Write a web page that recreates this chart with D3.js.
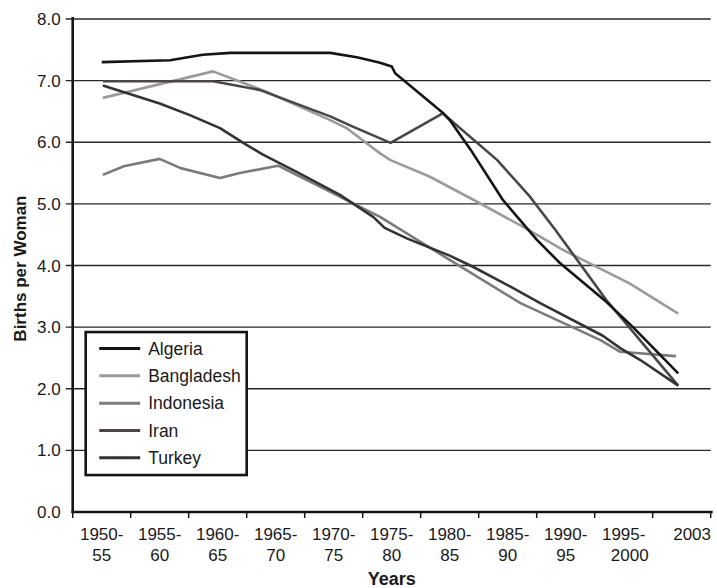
<!DOCTYPE html>
<html>
<head>
<meta charset="utf-8">
<script src="https://cdn.jsdelivr.net/npm/d3@7/dist/d3.min.js"></script>
<style>
  body { margin: 0; background: #fff; }
  text { font-family: "Liberation Sans", Arial, sans-serif; fill: #1a1a1a; }
</style>
</head>
<body>
<div class="chart-container"></div>
<script>
// tick labels (two lines under each period)
var periodTop = ["1950-", "1955-", "1960-", "1965-", "1970-", "1975-", "1980-", "1985-", "1990-", "1995-", "2003"];
var periodBottom = ["55", "60", "65", "70", "75", "80", "85", "90", "95", "2000", ""];
var periodMid = [1952.5, 1957.5, 1962.5, 1967.5, 1972.5, 1977.5, 1982.5, 1987.5, 1992.5, 1997.5, 2003.4];
var yearTicks = [1950, 1955, 1960, 1965, 1970, 1975, 1980, 1985, 1990, 1995, 2000, 2005];
var valueTicks = [0, 1, 2, 3, 4, 5, 6, 7, 8];

// series: [year, births per woman]
var algeria = [[1952.5, 7.30], [1958.4, 7.33], [1961.2, 7.42], [1963.6, 7.45], [1972.2, 7.45], [1974.5, 7.38],
  [1976.5, 7.29], [1977.5, 7.23], [1977.8, 7.12], [1981.9, 6.48], [1982.5, 6.36], [1984.3, 5.88], [1987.1, 5.06],
  [1990.0, 4.42], [1992.0, 4.04], [1992.9, 3.90], [1996.0, 3.41], [1998.3, 3.00], [2002.2, 2.25]];
var bangladesh = [[1952.6, 6.72], [1962.1, 7.15], [1966.7, 6.82], [1972.2, 6.36], [1973.6, 6.23], [1976.5, 5.82],
  [1977.4, 5.71], [1980.8, 5.44], [1985.1, 5.01], [1988.8, 4.63], [1992.3, 4.25], [1998.0, 3.71], [2002.2, 3.22]];
var indonesia = [[1952.6, 5.47], [1954.4, 5.61], [1957.5, 5.73], [1959.3, 5.58], [1962.7, 5.42], [1964.4, 5.50],
  [1967.7, 5.62], [1976.5, 4.79], [1982.5, 4.09], [1988.6, 3.39], [1995.5, 2.79], [1997.2, 2.60], [2002.0, 2.53]];
var iran = [[1952.6, 6.99], [1962.1, 6.99], [1966.1, 6.85], [1972.2, 6.42], [1974.2, 6.25], [1977.4, 5.99],
  [1981.9, 6.47], [1986.6, 5.71], [1989.4, 5.12], [1991.6, 4.58], [1996.0, 3.44], [1998.9, 2.79], [2002.2, 2.05]];
var turkey = [[1952.6, 6.92], [1957.5, 6.63], [1960.1, 6.44], [1962.7, 6.23], [1964.7, 5.99], [1966.4, 5.80],
  [1969.3, 5.52], [1973.0, 5.15], [1975.9, 4.79], [1976.9, 4.61], [1978.8, 4.44], [1982.5, 4.16], [1984.5, 3.98],
  [1987.7, 3.66], [1990.3, 3.39], [1995.7, 2.86], [1997.2, 2.66], [1998.9, 2.47], [2002.2, 2.05]];

var countries = ["Algeria", "Bangladesh", "Indonesia", "Iran", "Turkey"];
var seriesData = [algeria, bangladesh, indonesia, iran, turkey];
var colors = ["#161414", "#9b9b9b", "#7b7b7b", "#4a4646", "#363232"];

var margin = { top: 19, right: 6, bottom: 76, left: 72.7 },
  width = 717 - margin.left - margin.right,
  height = 588 - margin.top - margin.bottom;

var svg = d3.select(".chart-container").append("svg")
  .attr("width", 717)
  .attr("height", 588)
  .append("g")
  .attr("transform", "translate(" + margin.left + "," + margin.top + ")");

var x = d3.scaleLinear().domain([1950, 2005]).range([0, 638]);
var y = d3.scaleLinear().domain([0, 8]).range([height, 0]);

// grid lines (they poke out left of the axis as ticks)
svg.selectAll(".grid")
  .data(valueTicks.filter(function (d) { return d > 0; }))
  .enter().append("line")
  .attr("x1", -7).attr("x2", x(2005))
  .attr("y1", function (d) { return y(d); }).attr("y2", function (d) { return y(d); })
  .attr("stroke", "#2b2727").attr("stroke-width", 1.4);

svg.selectAll(".ylab")
  .data(valueTicks)
  .enter().append("text")
  .attr("x", -12)
  .attr("y", function (d) { return y(d); })
  .attr("dy", "0.36em")
  .attr("text-anchor", "end")
  .style("font-size", "17px")
  .text(function (d) { return d.toFixed(1); });

// lines
var line = d3.line()
  .x(function (d) { return x(d[0]); })
  .y(function (d) { return y(d[1]); });

var order = [1, 2, 3, 4, 0];
order.forEach(function (i) {
  svg.append("path")
    .datum(seriesData[i])
    .attr("d", line)
    .attr("fill", "none")
    .attr("stroke", colors[i])
    .attr("stroke-width", 2.6)
    .attr("stroke-linejoin", "round");
});

// axes
svg.append("line")
  .attr("x1", 0).attr("x2", 0).attr("y1", y(8) - 2).attr("y2", height + 1)
  .attr("stroke", "#161414").attr("stroke-width", 2.6);
svg.append("line")
  .attr("x1", -1.3).attr("x2", x(2005) + 2).attr("y1", height).attr("y2", height)
  .attr("stroke", "#161414").attr("stroke-width", 2.6);

svg.selectAll(".xtick")
  .data(yearTicks)
  .enter().append("line")
  .attr("x1", function (d) { return x(d); }).attr("x2", function (d) { return x(d); })
  .attr("y1", height).attr("y2", height + 6)
  .attr("stroke", "#161414").attr("stroke-width", 1.5);

svg.selectAll(".xlab1")
  .data(periodTop)
  .enter().append("text")
  .attr("x", function (d, i) { return x(periodMid[i]); })
  .attr("y", height + 28)
  .attr("text-anchor", "middle")
  .style("font-size", "17px")
  .text(function (d) { return d; });

svg.selectAll(".xlab2")
  .data(periodBottom)
  .enter().append("text")
  .attr("x", function (d, i) { return x(periodMid[i]) + (d.length > 2 ? 6 : 0); })
  .attr("y", height + 49)
  .attr("text-anchor", "middle")
  .style("font-size", "17px")
  .text(function (d) { return d; });

svg.append("text")
  .attr("x", x(1977.5))
  .attr("y", height + 73)
  .attr("text-anchor", "middle")
  .style("font-size", "18px")
  .style("font-weight", "bold")
  .text("Years");

svg.append("text")
  .attr("transform", "translate(-47," + y(3.95) + ") rotate(-90)")
  .attr("text-anchor", "middle")
  .style("font-size", "17px")
  .style("font-weight", "bold")
  .text("Births per Woman");

// legend
var legend = svg.append("g").attr("transform", "translate(13," + (y(2.92)) + ")");
legend.append("rect")
  .attr("width", 161).attr("height", 143)
  .attr("fill", "#fff").attr("stroke", "#161414").attr("stroke-width", 2.6);

var rows = legend.selectAll(".row")
  .data(countries)
  .enter().append("g")
  .attr("transform", function (d, i) { return "translate(0," + (16.5 + i * 27.3) + ")"; });
rows.append("line")
  .attr("x1", 13.5).attr("x2", 54.5).attr("y1", 0).attr("y2", 0)
  .attr("stroke", function (d, i) { return colors[i]; })
  .attr("stroke-width", 3);
rows.append("text")
  .attr("x", 62.5).attr("y", 0).attr("dy", "0.36em")
  .style("font-size", "17.5px")
  .text(function (d) { return d; });
</script>
</body>
</html>
